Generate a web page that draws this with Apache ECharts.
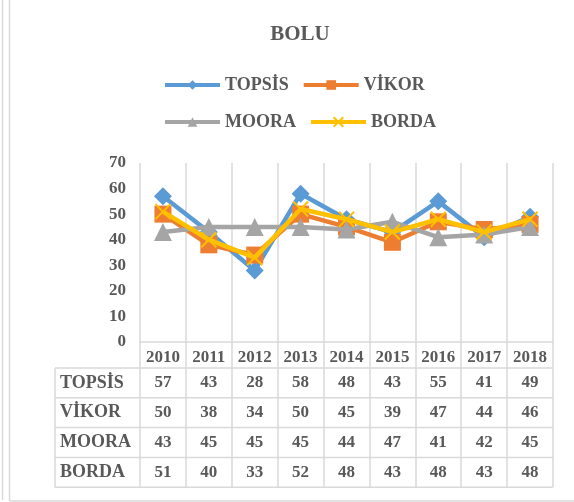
<!DOCTYPE html>
<html>
<head>
<meta charset="utf-8">
<script src="https://cdn.jsdelivr.net/npm/echarts@6/dist/echarts.min.js"></script>
<style>
html,body{margin:0;padding:0;background:#fff;}
#c{width:574px;height:502px;}
</style>
</head>
<body>
<div id="c"></div>
<script>
const years = ['2010','2011','2012','2013','2014','2015','2016','2017','2018'];
const seriesNames = ['TOPSİS','VİKOR','MOORA','BORDA'];
const topsis = [57,43,28,58,48,43,55,41,49];
const vikor  = [50,38,34,50,45,39,47,44,46];
const moora  = [43,45,45,45,44,47,41,42,45];
const borda  = [51,40,33,52,48,43,48,43,48];
const yMin = 0, yMax = 70, yStep = 10;

const tableRows = [topsis, vikor, moora, borda];
const colors = ['#5B9BD5','#ED7D31','#A5A5A5','#FFC000'];
const FONT = '"Liberation Serif","Times New Roman",serif';
const TXT = '#595959';
const GRIDC = '#D9D9D9';

const chart = echarts.init(document.getElementById('c'), null, {renderer:'canvas'});

const gridL = 140, gridR = 21, gridT = 163, gridB = 160;

const legendText = {fontFamily: FONT, fontWeight:'bold', fontSize:18, color:TXT, width:64, overflow:'none'};
const legendCommon = {left:158, orient:'horizontal', itemWidth:55, itemHeight:12, itemGap:13,
  textStyle:legendText, selectedMode:false, lineStyle:{width:4}};

function mk(i, data, symbol, size, extra) {
  return Object.assign({
    name: seriesNames[i], type:'line', data: data,
    symbol: symbol, symbolSize: size,
    lineStyle:{color:colors[i], width:4.5},
    itemStyle:{color:colors[i]},
    color: colors[i],
    z: 2 + i,
    emphasis:{disabled:true},
    animation:false
  }, extra || {});
}

const option = {
  animation:false,
  title:{text:'BOLU', left:295, textAlign:'center', top:19,
    textStyle:{fontFamily:FONT, fontWeight:'bold', fontSize:21, color:TXT}},
  legend:[
    Object.assign({data:[seriesNames[0], seriesNames[1]], top:71}, legendCommon),
    Object.assign({data:[seriesNames[2], seriesNames[3]], top:108}, legendCommon)
  ],
  grid:{left:gridL, right:gridR, top:gridT, bottom:gridB, containLabel:false},
  xAxis:{type:'category', data:years, boundaryGap:true,
    axisLine:{show:true, lineStyle:{color:GRIDC, width:1.5}},
    axisTick:{show:true, length:145, lineStyle:{color:GRIDC, width:1.5}},
    splitLine:{show:true, lineStyle:{color:GRIDC, width:1.5}},
    axisLabel:{margin:7, fontFamily:FONT, fontWeight:'bold', fontSize:17, color:TXT}},
  yAxis:{type:'value', min:yMin, max:yMax, interval:yStep,
    axisLine:{show:false}, axisTick:{show:false}, splitLine:{show:false},
    axisLabel:{margin:14, fontFamily:FONT, fontWeight:'bold', fontSize:17, color:TXT}},
  series:[
    mk(0, topsis, 'diamond', 18),
    mk(1, vikor, 'rect', 17),
    mk(2, moora, 'triangle', 18),
    mk(3, borda, 'path://M0,0L10,10M10,0L0,10', 15, {
      itemStyle:{color:colors[3], borderColor:colors[3], borderWidth:2}})
  ]
};
chart.setOption(option);

// Data table drawn under the axis, aligned with the category axis
const axisY = 502 - gridB;           // pixel y of the x-axis line
const headerH = 26, rowH = 29.8;
const tableLeft = 55, tableRight = 574 - gridR;
const g = [];
const lineStyle = {stroke:GRIDC, lineWidth:1.5};
for (let r = 0; r <= tableRows.length; r++) {
  const y = axisY + headerH + r*rowH;
  g.push({type:'line', shape:{x1:tableLeft, y1:y, x2:tableRight, y2:y}, style:lineStyle, silent:true});
}
g.push({type:'line', shape:{x1:tableLeft, y1:axisY+headerH, x2:tableLeft, y2:axisY+headerH+tableRows.length*rowH}, style:lineStyle, silent:true});
tableRows.forEach((row, r) => {
  const cy = axisY + headerH + r*rowH + rowH/2;
  g.push({type:'text', style:{text:seriesNames[r], x:tableLeft+5, y:cy, align:'left', verticalAlign:'middle',
    font:'bold 18px ' + FONT, fill:TXT}, silent:true});
  row.forEach((v, i) => {
    const cx = chart.convertToPixel({xAxisIndex:0}, years[i]);
    g.push({type:'text', style:{text:String(v), x:cx, y:cy, align:'center', verticalAlign:'middle',
      font:'bold 17px ' + FONT, fill:TXT}, silent:true});
  });
});
// chart frame
const frameStyle = {stroke:'#D9D9D9', lineWidth:1.5};
g.push({type:'line', shape:{x1:2.5, y1:0, x2:2.5, y2:500}, style:frameStyle, silent:true});
g.push({type:'line', shape:{x1:9.5, y1:0, x2:9.5, y2:501}, style:frameStyle, silent:true});
g.push({type:'line', shape:{x1:9.5, y1:501, x2:574, y2:501}, style:frameStyle, silent:true});
chart.setOption({graphic:g});
</script>
</body>
</html>
